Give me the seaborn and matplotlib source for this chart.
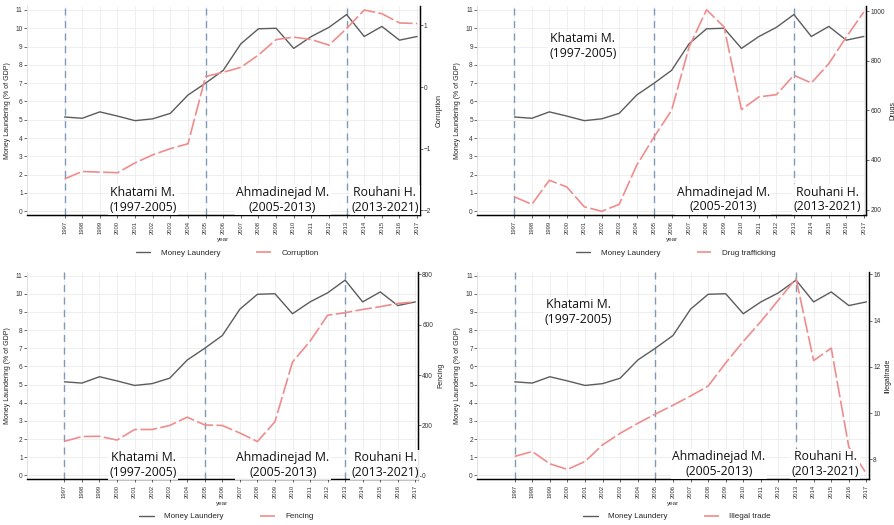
import numpy as np
import pandas as pd
import seaborn as sns
import matplotlib.pyplot as plt

# years on the x axis
years = list(range(1997, 2018))

# money laundering (% of GDP), same in all four panels
money_laundering = [5.15, 5.08, 5.43, 5.2, 4.95, 5.05, 5.35, 6.35, 7.0, 7.7, 9.15,
                    9.97, 10.0, 8.9, 9.55, 10.05, 10.75, 9.55, 10.1, 9.35, 9.55]

# the second series of each panel
corruption = [-1.49, -1.37, -1.38, -1.39, -1.23, -1.10, -1.0, -0.92, 0.17, 0.24, 0.32,
              0.52, 0.77, 0.81, 0.77, 0.68, 0.95, 1.25, 1.19, 1.04, 1.03]
drugs = [251, 221, 318, 291, 211, 193, 221, 378, 493, 600, 855,
         1005, 936, 603, 654, 663, 741, 710, 788, 895, 996]
fencing = [137, 156, 157, 142, 184, 184, 200, 233, 202, 200, 170,
           136, 215, 452, 535, 638, 648, 661, 672, 685, 691]
illegal_trade = [8.13, 8.34, 7.81, 7.57, 7.91, 8.63, 9.13, 9.56, 9.96, 10.34, 10.74,
                 11.17, 12.17, 13.1, 13.96, 14.89, 15.81, 12.27, 12.81, 8.53, 7.39]

# presidential terms
term_starts = [1997, 2005, 2013]
term_labels = ["Khatami M.\n(1997-2005)", "Ahmadinejad M.\n(2005-2013)", "Rouhani H.\n(2013-2021)"]

# panel settings: series, legend label, right axis label, right ticks, right limits, label positions
panels = [
    dict(values=corruption, label="Corruption", ylabel="Corruption",
         ticks=[-2, -1, 0, 1], ylim=(-2.08, 1.31),
         pos=[(0.295, 0.072), (0.651, 0.072), (0.911, 0.072)],
         rect=[0.030, 0.590, 0.439, 0.398]),
    dict(values=drugs, label="Drug trafficking", ylabel="Drugs",
         ticks=[200, 400, 600, 800, 1000], ylim=(177, 1019),
         pos=[(0.272, 0.81), (0.632, 0.075), (0.90, 0.075)],
         rect=[0.533, 0.590, 0.435, 0.398]),
    dict(values=fencing, label="Fencing", ylabel="Fencing",
         ticks=[0, 200, 400, 600, 800], ylim=(-14, 810),
         pos=[(0.297, 0.068), (0.655, 0.068), (0.916, 0.068)],
         rect=[0.030, 0.087, 0.437, 0.395]),
    dict(values=illegal_trade, label="Illegal trade", ylabel="Illegaltrade",
         ticks=[8, 10, 12, 14, 16], ylim=(7.14, 16.1),
         pos=[(0.258, 0.806), (0.617, 0.074), (0.888, 0.074)],
         rect=[0.533, 0.087, 0.438, 0.395]),
]

sns.set_theme(style="whitegrid", rc={"grid.color": "#ececec", "grid.linewidth": 0.6})
plt.rcParams["font.family"] = ["Liberation Sans", "DejaVu Sans"]

fig = plt.figure(figsize=(8.95, 5.25), dpi=100)

gray = "#5c5c5c"
pink = "#f08c8c"

for p in panels:
    ax = fig.add_axes(p["rect"])
    ax2 = ax.twinx()

    sns.lineplot(x=years, y=money_laundering, ax=ax, color=gray, linewidth=1.0,
                 label="Money Laundery", legend=False)
    sns.lineplot(x=years, y=p["values"], ax=ax2, color=pink, linewidth=1.2,
                 linestyle=(0, (10, 2)), label=p["label"], legend=False)

    # dashed lines at the start of each term
    for s in term_starts:
        ax.axvline(s, color="#7d9ab8", linestyle=(0, (5, 4)), linewidth=1.0, zorder=1)

    ax.set_xlim(1994.86, 2017.15)
    ax.set_xticks(years)
    ax.set_xticklabels([str(y) for y in years], rotation=90, fontsize=4.2, color="#333333")
    ax.set_ylim(-0.22, 11.2)
    ax.set_yticks(range(0, 12))
    ax.tick_params(axis="y", labelsize=4.7, length=2, width=0.5, pad=1, colors="#333333")
    ax.tick_params(axis="x", length=2, width=0.5, pad=2, bottom=True)
    ax.set_xlabel("year", fontsize=4.5, labelpad=2, color="#333333")
    ax.set_ylabel("Money Laundering (% of GDP)", fontsize=5, labelpad=3, color="#222222")

    ax2.set_ylim(*p["ylim"])
    ax2.set_yticks(p["ticks"])
    ax2.grid(False)
    ax2.tick_params(axis="y", labelsize=4.7, length=2, width=0.5, pad=1, right=True, colors="#333333")
    ax2.set_ylabel(p["ylabel"], fontsize=5, labelpad=3, color="#222222")

    for a in (ax, ax2):
        a.spines["top"].set_visible(False)
        a.spines["left"].set_color("#dddddd")
        a.spines["left"].set_linewidth(0.6)
        a.spines["bottom"].set_color("black")
        a.spines["bottom"].set_linewidth(0.9)
        a.spines["right"].set_color("black")
        a.spines["right"].set_linewidth(0.9)
    ax2.spines["left"].set_visible(False)

    # term labels in white boxes
    for txt, (xf, yf) in zip(term_labels, p["pos"]):
        ax2.text(xf, yf, txt, transform=ax.transAxes, ha="center", va="center",
                 fontsize=8.8, family=["Open Sans", "DejaVu Sans"], color="#111111",
                 linespacing=1.15, zorder=5,
                 bbox=dict(facecolor="white", edgecolor="none", pad=1.0, alpha=0.9))

    # legend under the panel
    h1, l1 = ax.get_legend_handles_labels()
    h2, l2 = ax2.get_legend_handles_labels()
    ax.legend(h1 + h2, l1 + l2, loc="center", bbox_to_anchor=(0.51, -0.18), ncol=2,
              frameon=False, fontsize=5.8, handlelength=1.8, columnspacing=4.5, handletextpad=1.3)

fig.savefig("out.png", dpi=100)
